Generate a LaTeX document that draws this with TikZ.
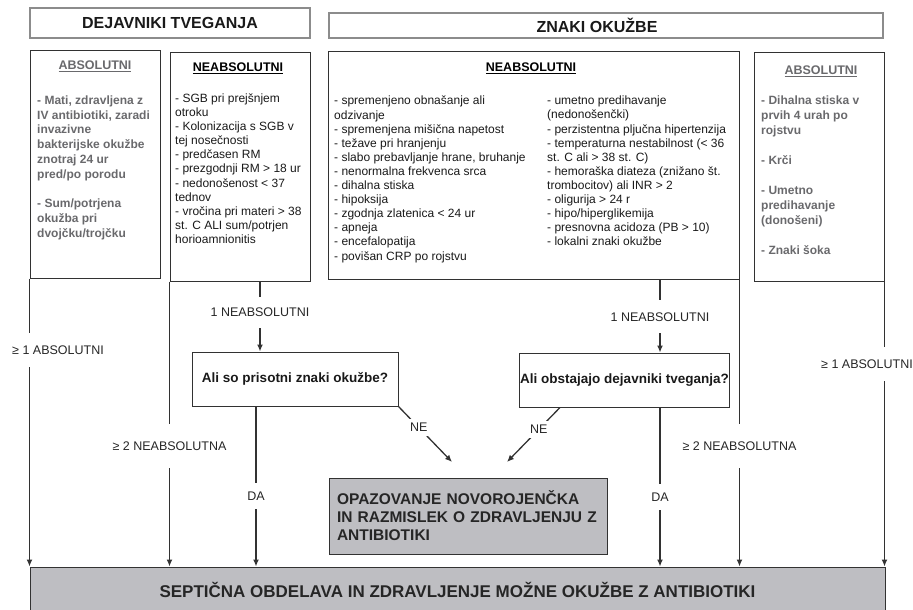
\documentclass[tikz,border=0pt]{standalone}
\usepackage{fontspec}
\setmainfont{Liberation Sans}
\usetikzlibrary{arrows.meta}
\definecolor{boxgrey}{RGB}{190,190,194}
\definecolor{absgrey}{RGB}{105,105,108}
\definecolor{linegrey}{RGB}{50,50,50}

\begin{document}
\begin{tikzpicture}[x=1pt, y=-1pt,
		listbox/.style={draw=linegrey, line width=1pt, inner sep=0pt},
		headbox/.style={draw=black!45, line width=1.6pt, inner sep=0pt, text=black!90, font=\fontsize{16}{19}\selectfont\bfseries},
		askbox/.style={draw=linegrey, line width=1pt, inner xsep=1pt, text=black!90, font=\fontsize{13.5}{16}\selectfont\bfseries},
		greybox/.style={draw=linegrey, line width=1pt, fill=boxgrey, text=black!85},
		listhead/.style={inner sep=0pt, font=\fontsize{12.5}{15}\selectfont\bfseries},
		listtxt/.style={anchor=north west, align=left, inner sep=0pt, text=black!90, font=\fontsize{12}{14.1}\selectfont},
		abstxt/.style={anchor=north west, align=left, inner sep=0pt, text=absgrey, font=\fontsize{12}{14.8}\selectfont\bfseries},
		lbl/.style={fill=white, inner xsep=2pt, text=black!85, font=\fontsize{12.5}{15}\selectfont},
		arr/.style={draw=linegrey, line width=1.3pt, -{Latex[length=7pt,width=6pt]}}]
		\useasboundingbox (0,0) rectangle (913,610);
		
		% headers
		\node[headbox, minimum width=280, minimum height=30] (hdrRisk) at (170,23) {DEJAVNIKI TVEGANJA};
		\node[headbox, minimum width=554, minimum height=25] (hdrSigns) at (606,25.5) {\hspace*{-18pt}ZNAKI OKUŽBE};
		
		% lists
		\node[listbox, minimum width=130, minimum height=227] (absL) at (95,164.5) {};
		\node[listbox, minimum width=140, minimum height=228] (neaL) at (240,167) {};
		\node[listbox, minimum width=411, minimum height=227] (mid) at (533.5,165.5) {};
		\node[listbox, minimum width=130, minimum height=228] (absR) at (819,167) {};
		
		\node[listhead, text=absgrey] (absLhead) at (95,66) {\underline{ABSOLUTNI}};
		\node[listhead] (neaLhead) at (238,68) {\underline{NEABSOLUTNI}};
		\node[listhead] (midhead) at (531,68) {\underline{NEABSOLUTNI}};
		\node[listhead, text=absgrey] (absRhead) at (821,71) {\underline{ABSOLUTNI}};
		
		\node[abstxt] (absLtxt) at (37,95.5) {- Mati, zdravljena z\\IV antibiotiki, zaradi\\invazivne\\bakterijske okužbe\\znotraj 24 ur\\pred/po porodu\\[14.8pt]- Sum/potrjena\\okužba pri\\dvojčku/trojčku};
		\node[listtxt] (neaLtxt) at (175,93.5) {- SGB pri prejšnjem\\otroku\\- Kolonizacija s SGB v\\tej nosečnosti\\- predčasen RM\\- prezgodnji RM > 18 ur\\- nedonošenost < 37\\tednov\\- vročina pri materi > 38\\st. C ALI sum/potrjen\\horioamnionitis};
		\node[listtxt] (midtxtA) at (334,96) {- spremenjeno obnašanje ali\\odzivanje\\- spremenjena mišična napetost\\- težave pri hranjenju\\- slabo prebavljanje hrane, bruhanje\\- nenormalna frekvenca srca\\- dihalna stiska\\- hipoksija\\- zgodnja zlatenica < 24 ur\\- apneja\\- encefalopatija\\- povišan CRP po rojstvu};
		\node[listtxt] (midtxtB) at (547,96) {- umetno predihavanje\\(nedonošenčki)\\- perzistentna pljučna hipertenzija\\- temperaturna nestabilnost (< 36\\st. C ali > 38 st. C)\\- hemoraška diateza (znižano št.\\trombocitov) ali INR > 2\\- oligurija > 24 r\\- hipo/hiperglikemija\\- presnovna acidoza (PB > 10)\\- lokalni znaki okužbe};
		\node[abstxt, font=\fontsize{12}{15}\selectfont\bfseries] (absRtxt) at (761,96) {- Dihalna stiska v\\prvih 4 urah po\\rojstvu\\[15pt]- Krči\\[15pt]- Umetno\\predihavanje\\(donošeni)\\[15pt]- Znaki šoka};
		
		% questions and outcomes
		\node[askbox, minimum width=206, minimum height=54] (q1) at (295,379) {Ali so prisotni znaki okužbe?};
		\node[askbox, minimum width=205, minimum height=54] (q2) at (624.5,380) {Ali obstajajo dejavniki tveganja?};
		\node[greybox, minimum width=278, minimum height=76, text width=262pt, inner xsep=8pt, align=left, font=\fontsize{15.5}{18}\selectfont\bfseries] (obs) at (468,516) {OPAZOVANJE NOVOROJENČKA\\IN RAZMISLEK O ZDRAVLJENJU Z\\ANTIBIOTIKI};
		\node[greybox, minimum width=855, minimum height=45, font=\fontsize{17}{20}\selectfont\bfseries] (sept) at (457.5,589.5) {SEPTIČNA OBDELAVA IN ZDRAVLJENJE MOŽNE OKUŽBE Z ANTIBIOTIKI};
		
		\coordinate (oneL) at (260,0);
		\coordinate (daL) at (256,0);
		\coordinate (oneR) at (660,0);
		\coordinate (neRs) at (560,0);
		\coordinate (neL) at (452,462);
		\coordinate (neR) at (507,462);
		
		% connectors
		\draw[arr] (absL.south west) -- (absL.south west |- sept.north);
		\draw[arr] (absR.south east) -- (absR.south east |- sept.north);
		\draw[arr] (neaL.south west) -- node[lbl, pos=0.577, inner ysep=18pt] (lblTwoL) {≥ 2 NEABSOLUTNA} (neaL.south west |- sept.north);
		\draw[arr] (mid.south east) -- node[lbl, pos=0.58, inner ysep=18pt] (lblTwoR) {≥ 2 NEABSOLUTNA} (mid.south east |- sept.north);
		\draw[arr] (neaL.south -| oneL) -- node[lbl, pos=0.437, inner ysep=11pt] (lblOneL) {1 NEABSOLUTNI} (q1.north -| oneL);
		\draw[arr] (mid.south -| oneR) -- node[lbl, pos=0.51, inner ysep=12pt] (lblOneR) {1 NEABSOLUTNI} (q2.north -| oneR);
		\draw[arr] (q1.south -| daL) -- node[lbl, pos=0.56, inner ysep=9pt] (lblDaL) {DA} (sept.north -| daL);
		\draw[arr] (q2.south -| oneR) -- node[lbl, pos=0.5625, inner ysep=9pt] (lblDaR) {DA} (sept.north -| oneR);
		\draw[arr] (q1.south east) -- node[lbl, pos=0.38, inner sep=4pt] (lblNeL) {NE} (neL);
		\draw[arr] (q2.south -| neRs) -- node[lbl, pos=0.4, inner sep=4pt] (lblNeR) {NE} (neR);
		
		\node[lbl, inner ysep=13pt] (lblAbsL) at (58,350) {≥ 1 ABSOLUTNI};
		\node[lbl, inner ysep=13pt] (lblAbsR) at (867,364) {≥ 1 ABSOLUTNI};
		
\end{tikzpicture}
\end{document}
